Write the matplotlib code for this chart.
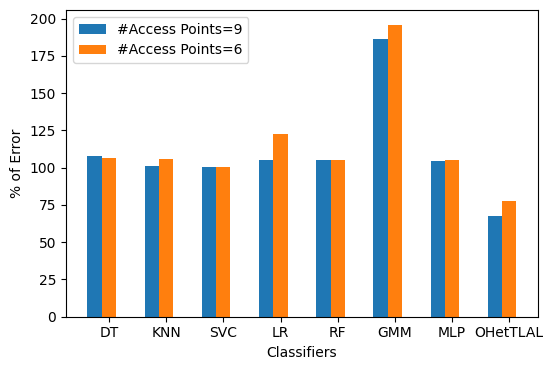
import numpy as np
import matplotlib
matplotlib.use("Agg")
import matplotlib.pyplot as plt

classifiers = ["DT", "KNN", "SVC", "LR", "RF", "GMM", "MLP", "OHetTLAL"]
err_ap9 = [107.8, 101.2, 100.3, 105.2, 105.0, 186.3, 104.2, 67.5]
err_ap6 = [106.8, 105.9, 100.3, 122.9, 105.0, 196.0, 105.0, 77.7]

fig = plt.figure(figsize=(5.5, 3.65), dpi=100)
ax = fig.add_axes([0.12, 0.1323, 0.858, 0.8403])

x = np.arange(len(classifiers))
w = 0.25
ax.bar(x - w, err_ap9, width=w, label="#Access Points=9")
ax.bar(x, err_ap6, width=w, label="#Access Points=6")

ax.set_xticks(x)
ax.set_xticklabels(classifiers)
ax.set_xlabel("Classifiers")
ax.set_ylabel("% of Error")
ax.legend(loc="upper left")

fig.savefig("out.png")
